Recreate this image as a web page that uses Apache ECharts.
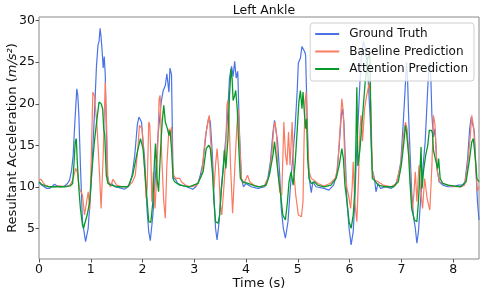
<!DOCTYPE html>
<html lang="en" style="height: 100%">
<head>
    <meta charset="utf-8">
    <script type="text/javascript" src="https://fastly.jsdelivr.net/npm/echarts@6/dist/echarts.min.js"></script>
    <title>Left Ankle</title>
</head>
<body style="height: 100%; margin: 0">
<div id="container" style="width: 484px; height: 292px"></div>

<script type="text/javascript">
    // [time (s), acceleration (m/s^2)] pairs
    var groundTruth = [[0,10.5],[0.05,10.2],[0.1,10.0],[0.15,9.8],[0.2,9.8],[0.25,10.0],[0.3,10.3],[0.35,10.1],[0.4,10.0],[0.45,10.0],[0.5,10.1],[0.55,10.4],[0.59,10.8],[0.63,12.0],[0.66,13.8],[0.69,17.5],[0.73,21.8],[0.75,21.0],[0.77,18.6],[0.8,12.6],[0.84,5.8],[0.9,3.4],[0.95,5.0],[1.01,10.6],[1.07,18.6],[1.11,24.5],[1.14,27.1],[1.16,27.5],[1.18,29.1],[1.2,28.0],[1.22,26.3],[1.24,24.3],[1.26,25.7],[1.28,23.5],[1.3,17.0],[1.32,11.4],[1.36,10.2],[1.4,10.4],[1.46,10.0],[1.55,9.9],[1.65,9.7],[1.7,9.9],[1.75,10.2],[1.8,11.5],[1.85,13.8],[1.9,17.5],[1.93,18.4],[1.96,18.2],[1.98,17.8],[2.01,15.5],[2.04,13.4],[2.09,7.0],[2.12,4.6],[2.15,3.5],[2.2,6.6],[2.25,11.4],[2.3,16.2],[2.36,20.2],[2.4,21.6],[2.44,22.2],[2.47,23.6],[2.49,22.5],[2.51,21.4],[2.53,24.3],[2.56,23.5],[2.59,11.0],[2.63,11.0],[2.68,10.4],[2.75,10.2],[2.85,10.0],[2.97,9.7],[3.03,10.0],[3.07,10.4],[3.12,11.5],[3.17,13.0],[3.23,16.6],[3.28,18.4],[3.31,17.8],[3.35,13.8],[3.38,9.0],[3.41,5.0],[3.44,3.6],[3.48,5.8],[3.52,9.8],[3.58,13.8],[3.64,18.2],[3.68,23.1],[3.72,24.5],[3.75,23.3],[3.78,25.1],[3.81,23.1],[3.84,23.9],[3.87,17.0],[3.91,11.0],[3.95,10.0],[4.0,10.4],[4.1,10.0],[4.23,9.8],[4.36,10.0],[4.42,11.0],[4.47,13.0],[4.52,16.6],[4.55,18.0],[4.58,17.8],[4.61,15.4],[4.65,11.4],[4.68,7.4],[4.72,5.0],[4.76,3.8],[4.81,5.8],[4.85,9.4],[4.9,13.4],[4.95,17.4],[4.99,21.8],[5.01,24.9],[5.05,25.5],[5.08,26.9],[5.11,26.7],[5.13,26.3],[5.15,25.9],[5.18,18.6],[5.21,11.4],[5.23,10.6],[5.26,9.3],[5.29,10.6],[5.35,10.0],[5.51,9.8],[5.6,9.6],[5.69,10.2],[5.75,11.4],[5.8,15.0],[5.84,18.6],[5.86,19.4],[5.89,17.8],[5.92,13.0],[5.95,8.2],[5.99,5.0],[6.03,3.0],[6.07,4.6],[6.1,8.2],[6.13,13.4],[6.17,18.6],[6.2,22.6],[6.23,25.9],[6.27,27.5],[6.31,26.5],[6.35,24.0],[6.4,18.0],[6.44,12.0],[6.48,11.0],[6.51,9.4],[6.55,10.4],[6.6,9.8],[6.7,10.0],[6.8,9.8],[6.88,10.2],[6.93,11.0],[6.99,13.0],[7.03,17.0],[7.07,21.4],[7.1,25.0],[7.12,23.0],[7.14,18.6],[7.17,13.8],[7.2,9.4],[7.23,6.6],[7.27,5.0],[7.3,3.2],[7.33,4.6],[7.37,8.2],[7.41,11.8],[7.46,15.4],[7.5,20.6],[7.53,24.3],[7.55,25.0],[7.57,23.0],[7.59,18.6],[7.62,16.0],[7.65,17.0],[7.69,12.2],[7.73,10.6],[7.8,10.2],[7.9,10.0],[8.0,10.0],[8.1,10.2],[8.18,10.2],[8.23,10.6],[8.28,13.4],[8.32,17.0],[8.35,18.4],[8.38,18.2],[8.41,16.6],[8.44,12.2],[8.47,8.2],[8.5,6.0]];

    var baseline = [[0,10.8],[0.04,10.9],[0.08,10.5],[0.12,10.2],[0.2,10.0],[0.3,10.0],[0.4,10.1],[0.5,10.0],[0.6,10.2],[0.65,10.8],[0.68,11.5],[0.71,12.2],[0.74,11.8],[0.78,9.8],[0.84,9.0],[0.88,6.6],[0.91,7.8],[0.95,9.4],[0.98,7.2],[1.01,13.4],[1.04,21.4],[1.07,21.0],[1.12,17.4],[1.17,11.4],[1.2,7.4],[1.24,13.8],[1.28,22.6],[1.31,16.6],[1.33,10.9],[1.38,10.0],[1.43,10.9],[1.5,10.2],[1.6,10.0],[1.7,10.0],[1.8,10.5],[1.86,11.4],[1.91,14.6],[1.94,17.4],[1.99,17.0],[2.03,13.4],[2.07,8.6],[2.09,10.0],[2.12,17.8],[2.14,17.5],[2.16,13.8],[2.18,8.2],[2.21,11.8],[2.24,7.4],[2.28,11.8],[2.32,20.6],[2.34,21.0],[2.37,13.8],[2.41,8.2],[2.44,6.2],[2.47,12.6],[2.51,17.0],[2.53,16.2],[2.56,17.2],[2.58,13.0],[2.6,11.4],[2.64,11.0],[2.67,10.8],[2.72,11.0],[2.75,10.6],[2.85,10.1],[2.95,10.0],[3.05,10.2],[3.14,11.4],[3.21,15.8],[3.26,17.8],[3.29,18.6],[3.31,16.2],[3.35,12.2],[3.38,9.8],[3.41,12.6],[3.44,14.6],[3.47,12.2],[3.5,8.2],[3.53,6.6],[3.57,9.8],[3.6,12.6],[3.63,19.8],[3.65,20.4],[3.67,18.6],[3.7,12.6],[3.74,6.8],[3.78,12.0],[3.82,17.0],[3.85,19.4],[3.88,15.0],[3.91,11.0],[3.96,10.4],[4.03,11.4],[4.07,10.6],[4.15,10.2],[4.25,10.0],[4.35,10.1],[4.45,11.4],[4.5,14.2],[4.54,17.4],[4.56,17.8],[4.59,16.2],[4.61,12.2],[4.65,9.4],[4.69,9.0],[4.73,17.8],[4.76,14.0],[4.79,12.6],[4.82,16.6],[4.85,12.6],[4.89,17.8],[4.92,12.0],[4.96,9.0],[5.01,6.6],[5.07,6.4],[5.1,8.2],[5.12,15.4],[5.14,20.2],[5.16,21.4],[5.19,15.4],[5.22,11.8],[5.26,11.0],[5.31,10.8],[5.39,10.4],[5.5,10.1],[5.62,10.4],[5.72,11.0],[5.77,12.2],[5.82,17.4],[5.85,20.6],[5.88,19.0],[5.9,14.6],[5.92,11.4],[5.95,9.8],[5.98,9.0],[6.02,7.4],[6.05,10.0],[6.07,13.0],[6.1,8.2],[6.14,5.8],[6.17,10.5],[6.2,16.6],[6.22,18.6],[6.25,15.5],[6.29,19.4],[6.33,21.0],[6.38,22.5],[6.41,20.0],[6.44,12.0],[6.48,10.8],[6.55,10.6],[6.65,10.2],[6.8,10.0],[6.9,10.4],[6.99,12.6],[7.04,16.2],[7.08,17.8],[7.11,17.0],[7.15,13.8],[7.18,9.8],[7.21,7.0],[7.24,9.0],[7.27,11.8],[7.3,8.2],[7.34,12.6],[7.37,9.8],[7.41,7.4],[7.45,11.0],[7.5,8.5],[7.55,7.2],[7.59,12.5],[7.62,18.6],[7.65,17.5],[7.69,12.0],[7.74,10.6],[7.85,10.3],[7.95,10.1],[8.05,10.0],[8.15,10.0],[8.22,10.2],[8.28,12.5],[8.33,16.0],[8.36,18.6],[8.4,17.0],[8.44,12.0],[8.47,9.5],[8.5,10.0]];

    var attention = [[0,10.6],[0.05,10.3],[0.12,10.1],[0.2,10.0],[0.3,10.0],[0.4,10.0],[0.5,10.0],[0.6,10.1],[0.65,10.4],[0.67,12.2],[0.7,15.4],[0.72,15.8],[0.74,13.0],[0.77,9.8],[0.8,7.4],[0.84,5.4],[0.86,5.0],[0.89,4.8],[0.93,6.6],[0.98,8.2],[1.02,11.8],[1.07,15.4],[1.12,18.2],[1.16,20.2],[1.2,20.0],[1.23,19.4],[1.25,17.0],[1.27,16.2],[1.3,11.4],[1.33,10.4],[1.4,10.2],[1.52,10.0],[1.72,10.0],[1.81,11.4],[1.9,14.2],[1.96,15.8],[2.01,14.6],[2.05,11.4],[2.09,8.2],[2.12,5.8],[2.16,5.7],[2.2,8.2],[2.23,13.0],[2.25,15.2],[2.28,11.0],[2.31,9.4],[2.35,14.6],[2.38,17.8],[2.41,19.8],[2.44,17.8],[2.48,17.0],[2.51,16.2],[2.53,16.8],[2.56,14.6],[2.59,11.0],[2.62,10.6],[2.72,10.2],[2.9,10.0],[3.07,10.4],[3.17,11.8],[3.23,14.6],[3.28,15.0],[3.31,14.6],[3.35,11.8],[3.38,8.2],[3.41,5.8],[3.46,5.6],[3.49,6.6],[3.52,9.4],[3.56,12.2],[3.58,14.4],[3.61,12.2],[3.65,15.8],[3.68,21.0],[3.71,24.2],[3.73,23.1],[3.75,20.4],[3.78,21.0],[3.8,21.6],[3.83,19.4],[3.86,14.6],[3.89,11.0],[3.94,10.6],[4.04,10.4],[4.17,10.1],[4.26,10.0],[4.39,10.2],[4.45,11.4],[4.52,13.8],[4.55,15.4],[4.58,13.8],[4.63,11.0],[4.67,9.0],[4.71,6.6],[4.76,6.0],[4.8,8.2],[4.83,10.6],[4.87,11.8],[4.91,10.2],[4.95,13.0],[4.99,17.0],[5.02,20.2],[5.05,21.6],[5.08,19.4],[5.1,21.4],[5.13,18.6],[5.15,17.0],[5.17,18.2],[5.19,13.4],[5.22,11.0],[5.26,10.4],[5.32,10.6],[5.38,10.2],[5.51,10.0],[5.64,10.2],[5.74,11.0],[5.8,12.6],[5.85,14.6],[5.88,13.4],[5.91,10.2],[5.95,8.2],[5.99,5.8],[6.03,5.0],[6.07,6.6],[6.1,9.4],[6.12,14.6],[6.14,22.0],[6.16,12.5],[6.2,14.5],[6.25,18.5],[6.3,22.5],[6.35,25.5],[6.39,26.0],[6.42,15.0],[6.44,11.0],[6.48,10.8],[6.55,10.2],[6.7,10.0],[6.85,10.0],[6.94,10.6],[7.0,12.6],[7.05,15.4],[7.08,17.4],[7.1,16.6],[7.14,13.8],[7.17,10.2],[7.2,7.4],[7.25,6.0],[7.3,5.8],[7.33,8.2],[7.36,11.8],[7.38,14.8],[7.4,9.8],[7.43,12.0],[7.47,13.8],[7.51,15.0],[7.54,16.8],[7.58,16.8],[7.6,16.5],[7.62,14.4],[7.64,14.6],[7.67,13.0],[7.7,12.2],[7.72,13.4],[7.75,11.0],[7.8,10.4],[7.9,10.2],[8.15,10.0],[8.25,10.6],[8.31,13.0],[8.36,15.4],[8.39,15.8],[8.43,13.4],[8.46,11.0],[8.5,10.6]];

    var xTicks = [0, 1, 2, 3, 4, 5, 6, 7, 8];
    var yTicks = [5, 10, 15, 20, 25, 30];

    var font = 'DejaVu Sans';
    var myChart = echarts.init(document.getElementById('container'), null, {renderer: 'canvas'});

    var option = {
        animation: false,
        backgroundColor: '#fff',
        title: {
            text: 'Left Ankle',
            left: 259,
            top: -1,
            textAlign: 'center',
            textStyle: {fontFamily: font, fontSize: 12.5, fontWeight: 'normal', color: '#111'}
        },
        legend: {
            orient: 'vertical',
            right: 10,
            top: 23,
            icon: 'rect',
            itemWidth: 24,
            itemHeight: 2,
            itemGap: 3.5,
            padding: [4, 6, 5, 5],
            backgroundColor: 'rgba(255,255,255,0.8)',
            borderColor: '#d0d0d0',
            borderWidth: 1,
            borderRadius: 3,
            textStyle: {fontFamily: font, fontSize: 12, color: '#111', lineHeight: 14, padding: [0, 0, 0, 5]},
            data: ['Ground Truth', 'Baseline Prediction', 'Attention Prediction']
        },
        grid: {
            left: 39, right: 5, top: 17, bottom: 33,
            outerBoundsMode: 'none',
            containLabel: false,
            show: true, borderColor: '#888', borderWidth: 1
        },
        xAxis: {
            type: 'value',
            min: 0, max: 8.5,
            name: 'Time (s)',
            nameLocation: 'middle',
            nameGap: 18,
            nameMoveOverlap: false,
            nameTextStyle: {fontFamily: font, fontSize: 13, color: '#111', verticalAlign: 'top'},
            axisLine: {show: false},
            axisTick: {show: true, inside: false, length: 3.5, customValues: xTicks, lineStyle: {color: '#555'}},
            axisLabel: {customValues: xTicks, margin: 4, fontFamily: font, fontSize: 12.5, color: '#111'},
            splitLine: {show: false}
        },
        yAxis: {
            type: 'value',
            min: 1.3, max: 30.45,
            name: '{n|Resultant Acceleration (}{i|m/s²}{n|)}',
            nameLocation: 'middle',
            nameGap: 20,
            nameMoveOverlap: false,
            nameTextStyle: {
                fontFamily: font, fontSize: 13, color: '#111',
                rich: {
                    n: {fontFamily: font, fontSize: 13, color: '#111'},
                    i: {fontFamily: font, fontSize: 13, color: '#111', fontStyle: 'italic'}
                }
            },
            axisLine: {show: false},
            axisTick: {show: true, inside: false, length: 3.5, customValues: yTicks, lineStyle: {color: '#555'}},
            axisLabel: {customValues: yTicks, margin: 4, fontFamily: font, fontSize: 12.5, color: '#111'},
            splitLine: {show: false}
        },
        series: [
            {name: 'Ground Truth', type: 'line', data: groundTruth, showSymbol: false, symbol: 'none',
                color: '#4a74e6', lineStyle: {width: 1.2, color: '#4a74e6'}},
            {name: 'Baseline Prediction', type: 'line', data: baseline, showSymbol: false, symbol: 'none',
                color: '#fb7a60', lineStyle: {width: 1.2, color: '#fb7a60'}},
            {name: 'Attention Prediction', type: 'line', data: attention, showSymbol: false, symbol: 'none',
                color: '#079a2b', lineStyle: {width: 1.3, color: '#079a2b'}}
        ]
    };

    myChart.setOption(option);
    window.addEventListener('resize', myChart.resize);
</script>
</body>
</html>
